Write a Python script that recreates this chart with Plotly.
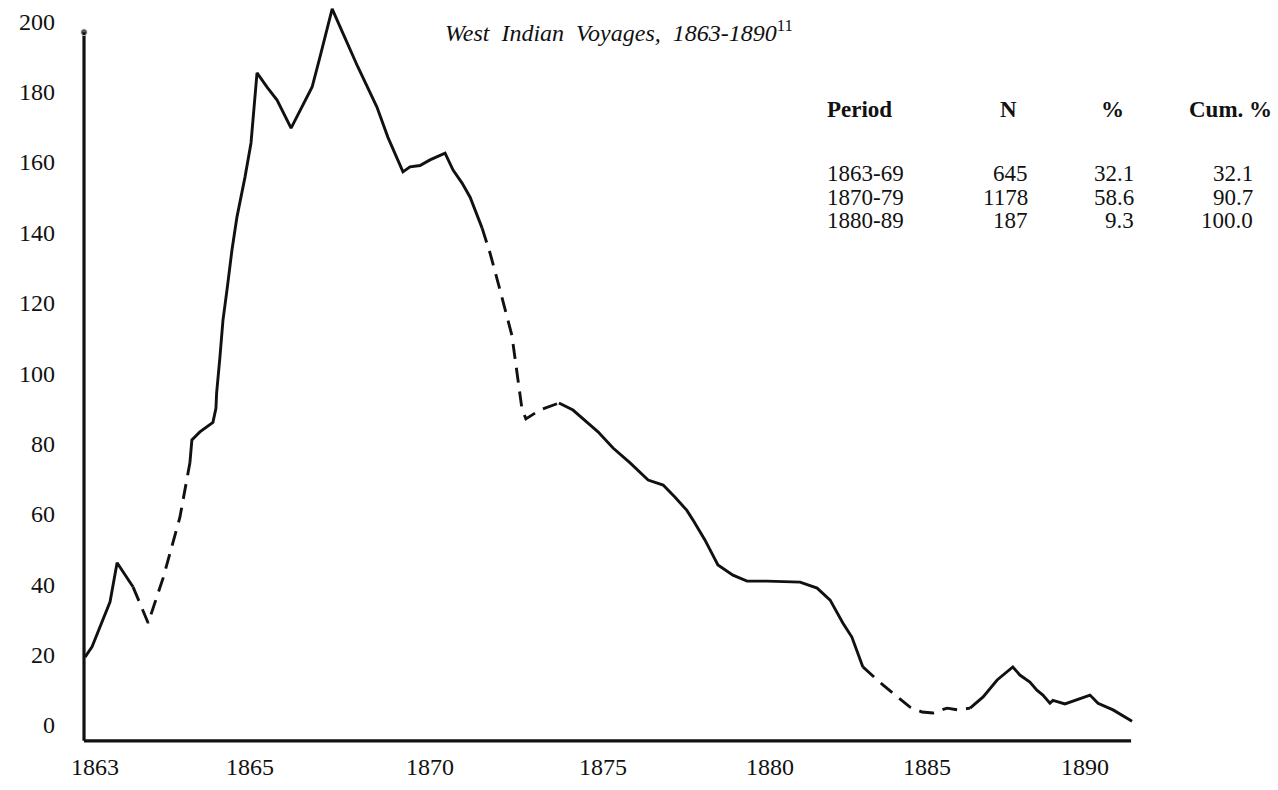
import plotly.graph_objects as go

# ---------------- data ----------------
years = [1860.06, 1860.27, 1860.81, 1861.02, 1861.50,
         1861.95, 1862.40, 1862.90, 1863.20,
         1863.26, 1863.50, 1863.89, 1863.98, 1864.00, 1864.10, 1864.19, 1864.31,
         1864.46, 1864.61, 1864.85, 1865.03, 1865.21, 1865.51, 1865.81, 1866.23,
         1866.50, 1866.86, 1867.10, 1867.46, 1867.78, 1868.23, 1868.80, 1869.13,
         1869.58, 1869.79, 1870.09, 1870.39, 1870.84, 1871.08, 1871.35, 1871.59,
         1871.95, 1872.19, 1872.43, 1872.84, 1873.14, 1873.26, 1873.68, 1874.25,
         1874.67, 1875.12, 1875.42, 1875.87, 1876.38, 1876.92, 1877.37, 1877.72,
         1878.08, 1878.26, 1878.62, 1879.01, 1879.46, 1879.88, 1880.48, 1881.47,
         1881.98, 1882.37, 1882.75, 1883.02, 1883.35,
         1883.95, 1884.76, 1885.12, 1885.45, 1885.87, 1886.20, 1886.56,
         1886.95, 1887.37, 1887.84, 1888.05, 1888.35, 1888.56, 1888.74, 1888.95,
         1889.04, 1889.40, 1890.15, 1890.39, 1890.84, 1891.41]
voyages = [19.3, 22.2, 35.0, 46.1, 39.2,
           29.0, 41.8, 59.0, 74.5,
           81.0, 83.3, 86.0, 90.0, 94.3, 104.6, 115.0, 123.6,
           135.0, 144.4, 155.7, 165.4, 185.3, 181.3, 177.6, 169.6,
           174.8, 181.3, 190.0, 203.5, 196.6, 187.0, 175.6, 167.0,
           157.2, 158.6, 159.0, 160.6, 162.5, 157.7, 154.0, 150.0,
           141.2, 134.0, 125.6, 110.8, 90.0, 87.0, 89.5, 91.5,
           89.5, 85.8, 83.3, 78.7, 74.5, 69.6, 68.2, 64.8,
           61.0, 58.3, 52.6, 45.5, 42.6, 40.9, 40.9, 40.6,
           38.9, 35.5, 29.0, 25.0, 16.5,
           11.4, 5.1, 3.7, 3.4, 4.8, 4.3, 4.8,
           8.0, 12.8, 16.5, 14.2, 12.2, 9.9, 8.5, 6.2,
           7.0, 6.0, 8.5, 6.2, 4.3, 1.1]
# (start index, end index, dashed?)
segments = [(0, 4, False), (4, 8, True), (8, 41, False), (41, 48, True),
            (48, 69, False), (69, 76, True), (76, 90, False)]

tick_labels = ["1863", "1865", "1870", "1875", "1880", "1885", "1890"]
tick_positions = [1860.36, 1865.0, 1870.39, 1875.57, 1880.57, 1885.27, 1890.0]
y_ticks = [0, 20, 40, 60, 80, 100, 120, 140, 160, 180, 200]

axis_origin_year = 1860.03
axis_end_year = 1891.38
x_axis_level = -4.5
y_axis_top = 196.9

periods = ["1863-69", "1870-79", "1880-89"]
n_voyages = ["645", "1178", "187"]
pct = ["32.1", "58.6", "9.3"]
cum_pct = ["32.1", "90.7", "100.0"]
headers = ["Period", "N", "%", "Cum. %"]

title_text = "West Indian Voyages, 1863-1890"
footnote = "11"

# ---------------- figure ----------------
FONT = "Liberation Serif, Times New Roman, serif"
INK = "#111111"
W, H = 1278, 790
L, R, T, B = 62, 118, 0, 40
PW, PH = W - L - R, H - T - B


def px(p):
    return (p - L) / PW


def py(p):
    return (H - B - p) / PH


fig = go.Figure()

# axes drawn as lines
fig.add_trace(go.Scatter(x=[axis_origin_year, axis_end_year], y=[x_axis_level, x_axis_level],
                         mode="lines", line=dict(color=INK, width=3.2),
                         hoverinfo="skip", showlegend=False))
fig.add_trace(go.Scatter(x=[axis_origin_year, axis_origin_year], y=[x_axis_level, y_axis_top],
                         mode="lines+markers", line=dict(color=INK, width=3.2),
                         marker=dict(size=[0, 7], color=INK),
                         hoverinfo="skip", showlegend=False, cliponaxis=False))

for s, e, dashed in segments:
    fig.add_trace(go.Scatter(
        x=years[s:e + 1], y=voyages[s:e + 1], mode="lines",
        line=dict(color=INK, width=2.9, dash="15px,9px" if dashed else "solid"),
        showlegend=False))

ann = []
ann.append(dict(xref="paper", yref="paper", x=px(443), y=py(31), xanchor="left", yanchor="middle",
                text="<i>" + title_text.replace(" ", "\u00a0\u00a0") + "</i><sup>" + footnote + "</sup>",
                showarrow=False, font=dict(family=FONT, size=24, color=INK)))

hdr_x = [825, 1008, 1112, 1230]
hdr_anchor = ["left", "center", "center", "center"]
for h, x, a in zip(headers, hdr_x, hdr_anchor):
    ann.append(dict(xref="paper", yref="paper", x=px(x), y=py(110), xanchor=a, yanchor="middle",
                    text="<b>" + h + "</b>", showarrow=False,
                    font=dict(family=FONT, size=23, color=INK)))

row_y = [173, 197, 221]
for i in range(len(periods)):
    cols = [(periods[i], 825, "left"), (n_voyages[i], 1030, "right"),
            (pct[i], 1136, "right"), (cum_pct[i], 1255, "right")]
    for txt, x, a in cols:
        ann.append(dict(xref="paper", yref="paper", x=px(x), y=py(row_y[i]), xanchor=a,
                        yanchor="middle", text=txt, showarrow=False,
                        font=dict(family=FONT, size=23, color=INK)))

fig.update_layout(
    width=W, height=H, autosize=False,
    margin=dict(l=L, r=R, t=T, b=B, pad=0),
    paper_bgcolor="white", plot_bgcolor="white",
    annotations=ann,
    xaxis=dict(range=[1859.371, 1892.246], showgrid=False, zeroline=False, showline=False,
               tickmode="array", tickvals=tick_positions, ticktext=tick_labels, ticks="",
               tickfont=dict(family=FONT, size=24, color=INK)),
    yaxis=dict(range=[-7.10, 206.03], showgrid=False, zeroline=False, showline=False,
               tickmode="array", tickvals=y_ticks, ticktext=[str(v) for v in y_ticks], ticks="",
               ticklabelstandoff=6,
               tickfont=dict(family=FONT, size=24, color=INK)),
)

fig.write_html("out.html", config={"displayModeBar": False},
               post_script="document.body.style.margin='0';document.body.style.overflow='hidden';")
